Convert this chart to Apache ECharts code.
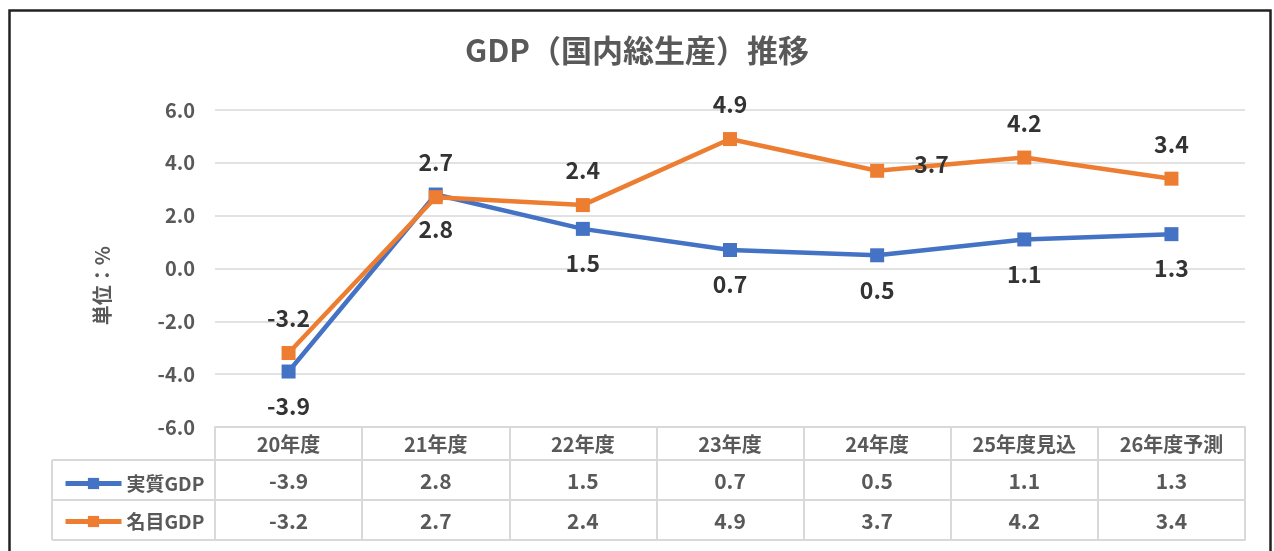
<!DOCTYPE html>
<html>
<head>
<meta charset="utf-8">
<script src="https://cdn.jsdelivr.net/npm/echarts@6/dist/echarts.min.js"></script>
<style>
html, body { margin: 0; padding: 0; background: #fff; }
#main { width: 1274px; height: 551px; }
</style>
</head>
<body>
<div id="main"></div>
<script>
// データ
var categories = ['20年度', '21年度', '22年度', '23年度', '24年度', '25年度見込', '26年度予測'];
var realGdp = [-3.9, 2.8, 1.5, 0.7, 0.5, 1.1, 1.3];
var nominalGdp = [-3.2, 2.7, 2.4, 4.9, 3.7, 4.2, 3.4];

var FONT = 'Noto Sans CJK JP';
var GRAY = '#595959';
var BORDER = '#d9d9d9';

function fmt (v) { return v.toFixed(1) }

var chart = echarts.init(document.getElementById('main'));

// 名目GDP 24年度のラベルだけ右側
var nominalData = nominalGdp.map(function (v, i) {
  if (i === 4) {
    return { value: v, label: { position: 'right', distance: 30, offset: [0, -6] } }
  }
  return v
});

// 表の補助軸（横罫線）
var tableLines = [33, 73, 113].map(function (off) {
  return {
    type: 'category',
    data: categories,
    position: 'bottom',
    offset: off,
    axisLine: { show: true, onZero: false, lineStyle: { color: BORDER, width: 2 } },
    axisTick: { show: false },
    axisLabel: { show: false },
    splitLine: { show: false }
  }
});

var option = {
  animation: false,
  textStyle: { fontFamily: FONT },
  title: {
    text: 'GDP（国内総生産）推移',
    left: 'center',
    top: 30,
    textStyle: { color: GRAY, fontSize: 31, fontWeight: 'bold', fontFamily: FONT }
  },
  legend: {
    orient: 'vertical',
    left: 58,
    top: 469,
    itemGap: 19,
    itemWidth: 56,
    itemHeight: 14,
    lineStyle: { width: 5 },
    textStyle: { color: GRAY, fontSize: 19, fontWeight: 'bold', fontFamily: FONT },
    data: ['実質GDP', '名目GDP']
  },
  grid: { left: 215, right: 29, top: 110, bottom: 124 },
  xAxis: [{
    type: 'category',
    data: categories,
    boundaryGap: true,
    axisLine: { show: true, onZero: false, lineStyle: { color: BORDER, width: 2 } },
    axisTick: { show: true, length: 113, lineStyle: { color: BORDER, width: 2 } },
    splitLine: { show: false },
    axisLabel: {
      margin: 0,
      interval: 0,
      formatter: function (value, idx) {
        return '{h|' + value + '}\n{v|' + fmt(realGdp[idx]) + '}\n{v|' + fmt(nominalGdp[idx]) + '}'
      },
      rich: {
        h: { fontSize: 20, fontWeight: 'bold', color: GRAY, lineHeight: 34, fontFamily: FONT },
        v: { fontSize: 21, fontWeight: 'bold', color: GRAY, lineHeight: 40, fontFamily: FONT }
      }
    }
  }].concat(tableLines),
  yAxis: {
    type: 'value',
    min: -6,
    max: 6,
    interval: 2,
    name: '単位：%',
    nameLocation: 'middle',
    nameRotate: 90,
    nameGap: 103,
    nameTextStyle: { color: GRAY, fontSize: 20, fontWeight: 'bold', fontFamily: FONT, padding: [0, 0, 0, -34] },
    axisLine: { show: false },
    axisTick: { show: false },
    axisLabel: {
      margin: 20,
      color: GRAY,
      fontSize: 20,
      fontWeight: 'bold',
      fontFamily: FONT,
      formatter: function (v) { return fmt(v) }
    },
    splitLine: { lineStyle: { color: BORDER, width: 1.5 } }
  },
  series: [
    {
      name: '実質GDP',
      type: 'line',
      data: realGdp,
      symbol: 'rect',
      symbolSize: 14,
      itemStyle: { color: '#4472C4' },
      lineStyle: { color: '#4472C4', width: 4.5 },
      label: {
        show: true,
        position: 'bottom',
        distance: 16,
        color: '#333',
        fontSize: 23,
        fontWeight: 'bold',
        fontFamily: FONT,
        formatter: function (p) { return fmt(p.value) }
      },
      z: 3
    },
    {
      name: '名目GDP',
      type: 'line',
      data: nominalData,
      symbol: 'rect',
      symbolSize: 14,
      itemStyle: { color: '#ED7D31' },
      lineStyle: { color: '#ED7D31', width: 4.5 },
      label: {
        show: true,
        position: 'top',
        distance: 16,
        color: '#333',
        fontSize: 23,
        fontWeight: 'bold',
        fontFamily: FONT,
        formatter: function (p) { return fmt(p.value) }
      },
      z: 4
    }
  ],
  graphic: [
    // 外枠
    { type: 'rect', left: 7, top: 8, shape: { width: 1261, height: 600 }, style: { fill: 'none', stroke: '#222', lineWidth: 2.5 }, silent: true },
    // 凡例欄の罫線
    { type: 'line', shape: { x1: 52, y1: 460, x2: 215, y2: 460 }, style: { stroke: BORDER, lineWidth: 2 } },
    { type: 'line', shape: { x1: 52, y1: 500, x2: 215, y2: 500 }, style: { stroke: BORDER, lineWidth: 2 } },
    { type: 'line', shape: { x1: 52, y1: 540, x2: 215, y2: 540 }, style: { stroke: BORDER, lineWidth: 2 } },
    { type: 'line', shape: { x1: 52, y1: 460, x2: 52, y2: 540 }, style: { stroke: BORDER, lineWidth: 2 } }
  ]
};

chart.setOption(option);
window.addEventListener('resize', function () { chart.resize() });
</script>
</body>
</html>
